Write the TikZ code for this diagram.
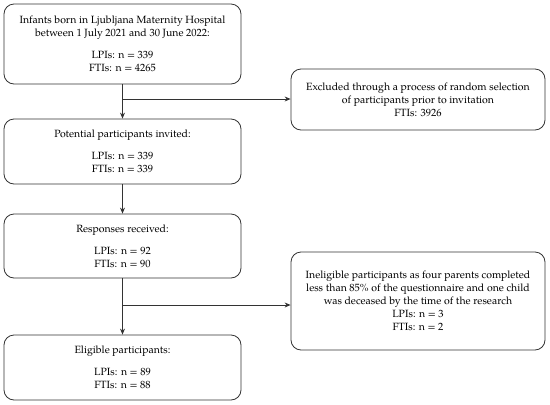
\documentclass[tikz,border=0pt]{standalone}
\usepackage{fontspec}
\setmainfont{TeX Gyre Pagella}
\usetikzlibrary{arrows.meta}
\begin{document}
\begin{tikzpicture}[x=1pt,y=1pt,
  box/.style={draw=black!80, line width=0.8pt, rounded corners=10pt, align=center,
    font=\fontsize{10.5}{13}\selectfont, inner sep=0pt},
  conn/.style={draw=black!80, line width=0.8pt},
  arr/.style={conn, -{Stealth[length=6pt,width=5pt]}}]
\useasboundingbox (0,0) rectangle (550,-405);
\node[box, minimum width=237pt, minimum height=80pt] (b1) at (122.5,-44)
  {Infants born in Ljubljana Maternity Hospital\\between 1 July 2021 and 30 June 2022:\\[9pt]LPIs: n = 339\\FTIs: n = 4265};
\node[box, minimum width=254pt, minimum height=61pt] (b2) at (418,-99.5)
  {Excluded through a process of random selection\\of participants prior to invitation\\FTIs: 3926};
\node[box, minimum width=237pt, minimum height=65pt] (b3) at (122.5,-151.5)
  {Potential participants invited:\\[9pt]LPIs: n = 339\\FTIs: n = 339};
\node[box, minimum width=237pt, minimum height=64pt] (b4) at (122.5,-246)
  {Responses received:\\[9pt]LPIs: n = 92\\FTIs: n = 90};
\node[box, minimum width=254pt, minimum height=98pt] (b5) at (418,-301)
  {Ineligible participants as four parents completed\\less than 85\% of the questionnaire and one child\\was deceased by the time of the research\\LPIs: n = 3\\FTIs: n = 2};
\node[box, minimum width=237pt, minimum height=65pt] (b6) at (122.5,-367.5)
  {Eligible participants:\\[9pt]LPIs: n = 89\\FTIs: n = 88};
\coordinate (j1) at (122.5,-99);
\coordinate (j2) at (122.5,-305);
\draw[arr] (b1.south) -- (b3.north);
\draw[arr] (j1) -- (j1 -| b2.west);
\draw[arr] (b3.south) -- (b4.north);
\draw[arr] (b4.south) -- (b6.north);
\draw[arr] (j2) -- (j2 -| b5.west);
\end{tikzpicture}
\end{document}
